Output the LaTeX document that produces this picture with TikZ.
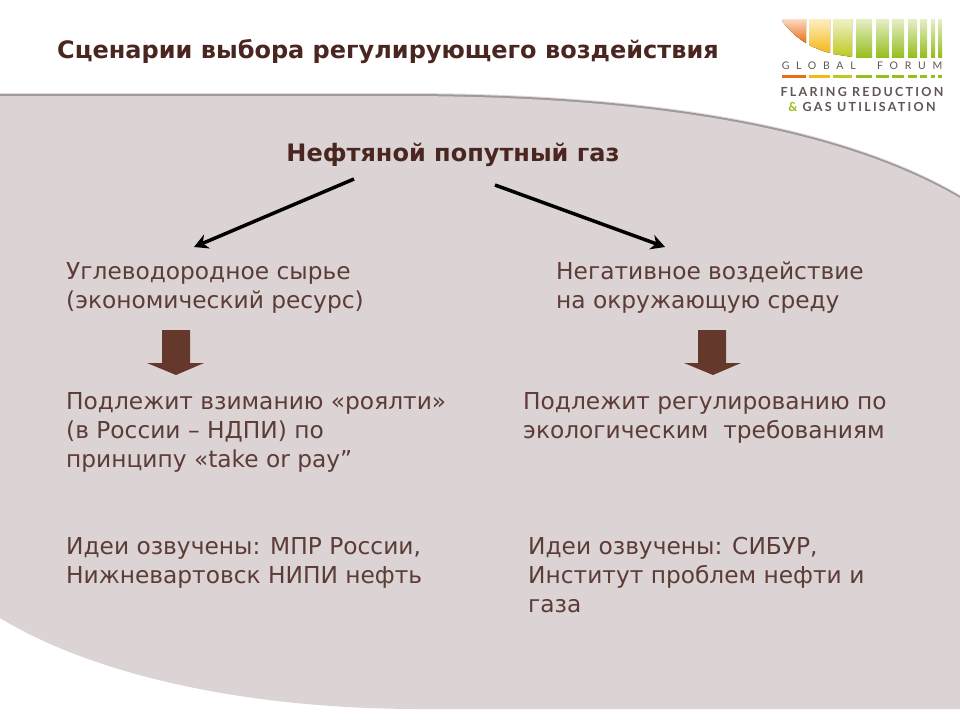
\documentclass[tikz,border=0pt]{standalone}
\usepackage{fontspec}
\setmainfont{DejaVu Sans}
\newfontfamily\logofont[LetterSpace=18]{Lato}
\newfontfamily\logowide[LetterSpace=64]{Lato}
\usetikzlibrary{arrows.meta,calc}
\definecolor{panel_grey}{RGB}{220,211,212}
\definecolor{edge_grey}{RGB}{160,152,154}
\definecolor{title_red}{RGB}{74,38,32}
\definecolor{text_brown}{RGB}{92,60,55}
\definecolor{down_brown}{RGB}{101,56,44}
\definecolor{logo_green}{RGB}{150,190,30}
\definecolor{logo_lime}{RGB}{190,200,30}
\definecolor{logo_yellow}{RGB}{245,185,20}
\definecolor{logo_orange}{RGB}{235,110,20}
\definecolor{logo_grey}{RGB}{95,85,82}
\tikzstyle{body}=[anchor=north west,inner sep=0pt,align=left,text=text_brown,
  font=\fontsize{23.3}{29}\selectfont]
\tikzstyle{head}=[anchor=center,inner sep=0pt,text=title_red,
  font=\fontsize{24}{28}\selectfont\bfseries]
\tikzstyle{none}=[inner sep=0pt,text=logo_grey]
\tikzstyle{link}=[line width=3.5pt,-{Stealth[length=14pt,width=15pt]}]
\tikzstyle{down}=[fill=down_brown,draw=none]
\tikzstyle{panel}=[fill=panel_grey,draw=none]
\begin{document}
\begin{tikzpicture}[x=1pt,y=-1pt]
        \useasboundingbox (0,0) rectangle (960,720);
        % panel
        \def\panelpath{(0,95) -- (400,95) .. controls (600,95) and (820,115) .. (960,197)
            -- (960,708) -- (420,708) .. controls (240,708) and (90,672) .. (0,617) -- cycle}
        \fill [edge_grey!35!white,yshift=2pt] \panelpath;
        \fill [edge_grey,yshift=1pt] \panelpath;
        \fill [style=panel,yshift=-1pt] \panelpath;
        % text
        \node [style=head] (title) at (388,52) {Сценарии выбора регулирующего воздействия};
        \node [style=head] (gas) at (453,155) {Нефтяной попутный газ};
        \node [style=body] (res) at (66,262) {Углеводородное сырье\\(экономический ресурс)};
        \node [style=body] (neg) at (556,262) {Негативное воздействие\\на окружающую среду};
        \node [style=body] (roy) at (66,392) {Подлежит взиманию «роялти»\\(в России – НДПИ) по\\принципу «take or pay”};
        \node [style=body] (eco) at (523,392) {Подлежит регулированию по\\экологическим\ \ требованиям};
        \node [style=body] (idl) at (66,537) {Идеи озвучены: МПР России,\\Нижневартовск НИПИ нефть};
        \node [style=body] (idr) at (528,537) {Идеи озвучены: СИБУР,\\Институт проблем нефти и\\газа};
        % arrows
        \coordinate (gl) at (354,179);
        \coordinate (gr) at (495,185);
        \coordinate (al) at (194,247);
        \coordinate (ar) at (665,247);
        \draw [style=link] (gl) to (al);
        \draw [style=link] (gr) to (ar);
        \fill [style=down] (162,330) -- (190,330) -- (190,363) -- (204,363) -- (176,375) -- (147,363) -- (162,363) -- cycle;
        \fill [style=down] (698,330) -- (726,330) -- (726,363) -- (741,363) -- (713,375) -- (684,363) -- (698,363) -- cycle;
        % logo
        \fill [top color=logo_orange!25!white,bottom color=logo_orange] (782,19) -- (806,19) -- (806,43) .. controls (797,38) and (789,30) .. (782,21) -- cycle;
        \fill [top color=logo_yellow!25!white,bottom color=logo_yellow] (809,19) -- (830,19) -- (830,53) .. controls (822,51) and (815,48) .. (809,45) -- cycle;
        \fill [top color=logo_lime!25!white,bottom color=logo_lime] (833,19) -- (852,19) -- (852,57) .. controls (846,56) and (839,55) .. (833,54) -- cycle;
        \foreach \x/\w in {856/16,876/13,892/12,908/9,920/7,931/4,938/4}{
            \fill [top color=logo_green!25!white,bottom color=logo_green] (\x,19) rectangle (\x+\w,57);
        }
        \node [style=none,font=\fontsize{10.5}{12}\logowide] (gf) at (862,66) {GLOBAL\hspace{12pt} FORUM};
        \foreach \x/\w/\c in {782/24/logo_orange,809/21/logo_yellow,833/19/logo_lime,856/16/logo_green,876/13/logo_green,892/12/logo_green,908/9/logo_green,920/7/logo_green,931/4/logo_green,938/4/logo_green}{
            \fill [\c] (\x,75) rectangle (\x+\w,78);
        }
        \node [style=none,font=\fontsize{12.5}{14}\logofont\bfseries] (fr) at (862,92) {FLARING REDUCTION};
        \node [style=none,font=\fontsize{12.5}{14}\logofont\bfseries] (gu) at (862,107) {\textcolor{logo_green}{\&} GAS UTILISATION};
    \end{tikzpicture}
\end{document}
